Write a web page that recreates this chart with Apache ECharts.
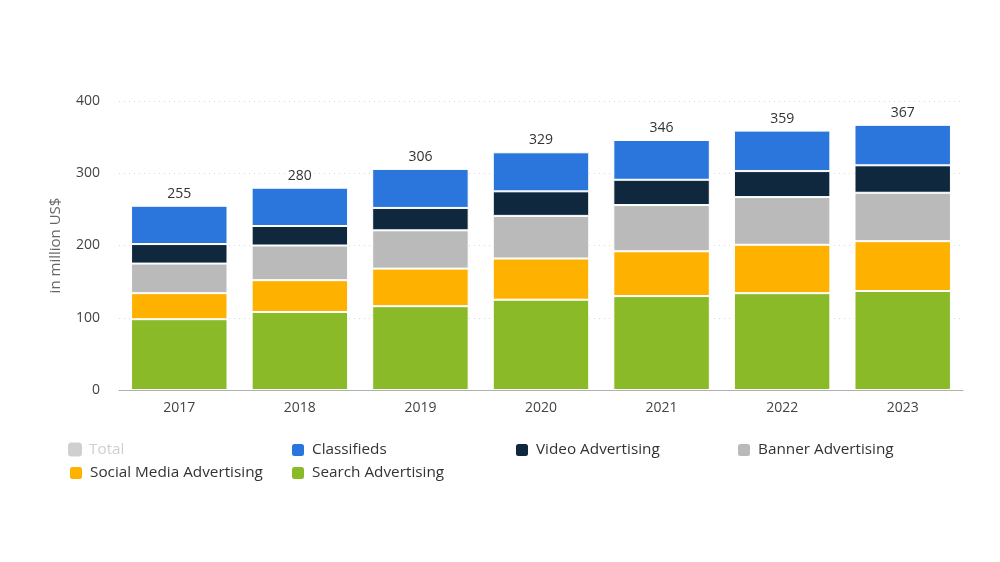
<!DOCTYPE html>
<html>
<head>
  <meta charset="UTF-8">
  <script src="https://cdn.jsdelivr.net/npm/echarts@6/dist/echarts.min.js"></script>
  <style>
    html, body { margin: 0; padding: 0; background: #fff; }
    #chart { width: 1000px; height: 562px; }
  </style>
</head>
<body>
  <div id="chart"></div>
  <script>
    // data
    var years = ['2017', '2018', '2019', '2020', '2021', '2022', '2023'];
    var search = [98, 108, 116, 125, 130, 134, 137];
    var social = [36, 44, 52, 57, 62, 67, 69];
    var banner = [41, 48, 53, 59, 64, 66, 67];
    var video = [27, 27, 31, 34, 35, 36, 38];
    var classifieds = [53, 53, 54, 54, 55, 56, 56];
    var totals = [255, 280, 306, 329, 346, 359, 367];

    var colors = {
      'Total': '#cfcfcf',
      'Classifieds': '#2a76dc',
      'Video Advertising': '#10283e',
      'Banner Advertising': '#bababa',
      'Social Media Advertising': '#ffb100',
      'Search Advertising': '#8aba28'
    };

    var font = '"Open Sans", "Noto Sans", sans-serif';

    function bar(name, data) {
      return {
        name: name,
        type: 'bar',
        stack: 'all',
        data: data,
        barCategoryGap: '20%',
        itemStyle: { color: colors[name], borderColor: '#fff', borderWidth: 1 }
      };
    }

    var series = [
      bar('Search Advertising', search),
      bar('Social Media Advertising', social),
      bar('Banner Advertising', banner),
      bar('Video Advertising', video),
      bar('Classifieds', classifieds),
      { name: 'Total', type: 'bar', stack: 'all', data: [], itemStyle: { color: colors['Total'] } }
    ];
    // totals written above the top segment
    series[4].label = {
      show: true,
      position: 'top',
      distance: 5,
      color: '#333',
      fontSize: 14,
      fontFamily: font,
      formatter: function (p) { return totals[p.dataIndex]; }
    };

    // one legend per item so they line up in columns
    var legendSpots = [
      ['Total', 68, 442],
      ['Classifieds', 290, 442],
      ['Video Advertising', 514, 442],
      ['Banner Advertising', 736, 442],
      ['Social Media Advertising', 68, 465],
      ['Search Advertising', 290, 465]
    ];
    var legends = legendSpots.map(function (s) {
      var l = {
        data: [{ name: s[0], itemStyle: { color: colors[s[0]] } }],
        left: s[1],
        top: s[2],
        padding: 0,
        icon: 'roundRect',
        itemWidth: 14,
        itemHeight: 14,
        inactiveColor: '#cfcfcf',
        textStyle: { color: '#333', fontSize: 15.3, fontFamily: font, padding: [0, 0, 0, 2] }
      };
      if (s[0] === 'Total') {
        l.selected = { 'Total': false };
      }
      return l;
    });

    var myChart = echarts.init(document.getElementById('chart'));
    myChart.setOption({
      animation: false,
      grid: { left: 119, right: 37, top: 101, bottom: 172 },
      legend: legends,
      xAxis: {
        type: 'category',
        data: years,
        axisLine: { lineStyle: { color: '#b0b0b0' } },
        axisTick: { show: false },
        axisLabel: { color: '#444', fontSize: 14, fontFamily: font, margin: 11 }
      },
      yAxis: {
        type: 'value',
        min: 0,
        max: 400,
        interval: 100,
        name: 'in million US$',
        nameLocation: 'middle',
        nameGap: 56,
        nameTextStyle: { color: '#666', fontSize: 15, fontFamily: font },
        axisLine: { show: false },
        axisTick: { show: false },
        axisLabel: { color: '#444', fontSize: 14, fontFamily: font, margin: 19 },
        splitLine: { lineStyle: { color: '#d8d8d8', type: [1, 4] } }
      },
      series: series
    });
  </script>
</body>
</html>
